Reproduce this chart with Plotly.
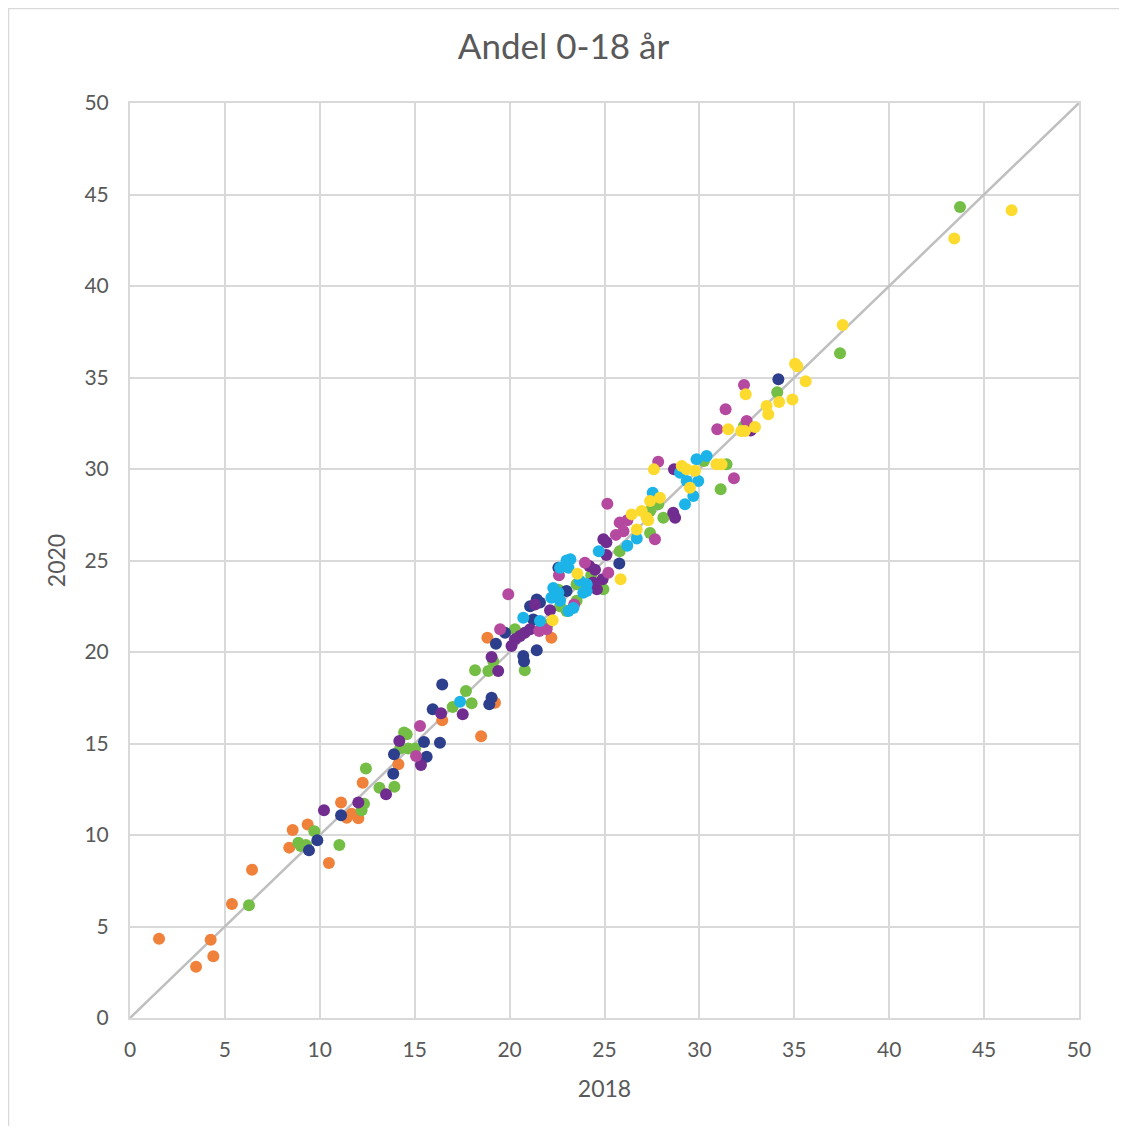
import plotly.graph_objects as go

# ── Dados ────────────────────────────────────────────────────────────────────

TITULO = "Andel 0-18 år"
EIXO_X = "2018"
EIXO_Y = "2020"
TICKS = [0, 5, 10, 15, 20, 25, 30, 35, 40, 45, 50]
DIAG = [0, 50]

LARANJA_X = [1.53, 3.48, 4.25, 4.39, 5.37, 6.43, 8.39, 8.57, 9.36, 10.48, 11.12, 11.68, 11.42, 12.03,
             12.26, 14.14, 16.45, 18.5, 18.83, 22.2, 19.23]
LARANJA_Y = [4.33, 2.8, 4.28, 3.37, 6.23, 8.1, 9.31, 10.27, 10.58, 8.47, 11.77, 11.16, 10.94, 10.91,
             12.86, 13.86, 16.27, 15.4, 20.78, 20.78, 17.23]

VERDE_X = [6.27, 8.87, 9.0, 9.27, 9.71, 11.03, 12.2, 12.33, 12.43, 13.14, 13.93, 14.23, 14.66, 15.02,
           14.44, 14.58, 18.0, 17.7, 18.18, 18.88, 19.14, 20.8, 20.28, 22.0, 22.57, 23.53, 23.53,
           23.0, 22.66, 24.3, 24.94, 25.8, 27.4, 27.4, 27.83, 28.1, 30.24, 31.43, 31.12, 32.35,
           34.1, 37.41, 43.73, 17.0]
VERDE_Y = [6.16, 9.58, 9.4, 9.45, 10.2, 9.45, 11.35, 11.71, 13.64, 12.58, 12.64, 14.72, 14.72, 14.72,
           15.6, 15.5, 17.2, 17.87, 19.0, 18.96, 19.5, 19.0, 21.24, 21.48, 23.4, 23.7, 22.8,
           22.24, 22.5, 24.2, 23.43, 25.5, 26.5, 27.7, 28.07, 27.34, 30.44, 30.26, 28.89, 32.35,
           34.2, 36.32, 44.32, 17.0]

AZUL_X = [9.43, 9.87, 11.12, 13.87, 13.91, 15.49, 15.63, 16.33, 15.95, 16.45, 18.93, 19.05, 19.28,
          19.76, 20.72, 20.76, 21.43, 21.08, 21.43, 21.6, 21.25, 22.57, 23.0, 25.78, 34.16]
AZUL_Y = [9.16, 9.71, 11.08, 13.35, 14.41, 15.08, 14.28, 15.04, 16.87, 18.23, 17.14, 17.5, 20.45,
          21.05, 19.78, 19.5, 20.09, 22.5, 22.87, 22.7, 21.78, 24.6, 23.33, 24.83, 34.9]

ROXO_X = [10.22, 12.03, 13.49, 14.19, 15.33, 16.39, 17.53, 19.05, 19.4, 20.1, 20.28, 20.55, 20.8,
          21.08, 21.34, 22.13, 24.2, 24.5, 24.6, 24.9, 25.1, 24.94, 25.1, 28.66, 28.62, 28.72,
          32.7, 24.4]
ROXO_Y = [11.35, 11.77, 12.22, 15.14, 13.83, 16.65, 16.6, 19.73, 18.96, 20.33, 20.69, 20.87, 21.05,
          21.24, 22.6, 22.28, 24.7, 24.5, 23.43, 23.97, 25.3, 26.16, 26.0, 29.98, 27.61, 27.34,
          32.1, 23.8]

MAGENTA_X = [15.28, 15.07, 19.5, 19.93, 21.56, 21.95, 22.6, 23.97, 25.2, 25.15, 25.6, 25.8, 26.2,
             27.66, 27.83, 31.38, 31.82, 30.94, 32.49, 32.35, 23.4, 26.0]
MAGENTA_Y = [15.96, 14.32, 21.24, 23.15, 21.15, 21.24, 24.2, 24.88, 24.33, 28.1, 26.4, 27.07, 27.2,
             26.16, 30.4, 33.26, 29.49, 32.17, 32.62, 34.59, 22.6, 26.6]

CIANO_X = [17.39, 20.72, 21.6, 22.2, 22.3, 22.57, 22.66, 22.66, 23.1, 23.2, 23.1, 23.36, 23.7,
           24.06, 24.06, 23.88, 24.7, 26.2, 26.7, 27.54, 28.98, 29.24, 29.33, 29.68, 29.85,
           29.94, 30.38, 23.0]
CIANO_Y = [17.28, 21.87, 21.7, 22.97, 23.5, 23.24, 22.8, 24.6, 24.6, 25.07, 22.24, 22.4, 23.9,
           23.7, 23.33, 23.24, 25.5, 25.8, 26.2, 28.7, 29.8, 28.07, 29.34, 28.52, 30.53,
           29.34, 30.71, 25.0]

AMARELO_X = [22.27, 23.57, 25.85, 26.7, 27.3, 26.43, 26.96, 27.22, 27.4, 27.92, 27.6, 29.07, 29.33,
             29.77, 29.5, 30.9, 31.17, 31.52, 32.2, 32.4, 32.93, 32.44, 33.54, 33.63, 34.2, 34.9,
             35.04, 35.16, 35.6, 37.55, 43.43, 46.45]
AMARELO_Y = [21.73, 24.28, 23.97, 26.7, 27.2, 27.52, 27.7, 27.34, 28.25, 28.43, 29.98, 30.16, 29.98,
             29.9, 28.98, 30.26, 30.26, 32.17, 32.07, 32.07, 32.3, 34.08, 33.44, 32.99, 33.66, 33.8,
             35.75, 35.61, 34.8, 37.87, 42.6, 44.14]

SERIES = [
    (LARANJA_X, LARANJA_Y, "#F0813A"),
    (VERDE_X, VERDE_Y, "#74BE45"),
    (AZUL_X, AZUL_Y, "#2C3E8C"),
    (ROXO_X, ROXO_Y, "#702C8E"),
    (MAGENTA_X, MAGENTA_Y, "#B5499F"),
    (CIANO_X, CIANO_Y, "#1CB4E8"),
    (AMARELO_X, AMARELO_Y, "#FDDB2E"),
]

# ── Gráfico ──────────────────────────────────────────────────────────────────

FONTE = "Lato, 'Open Sans', sans-serif"
CINZA = "#595959"
GRADE = "#D9D9D9"

fig = go.Figure()

fig.add_trace(go.Scatter(
    x=DIAG, y=DIAG, mode="lines",
    line=dict(color="#BFBFBF", width=2.5),
    showlegend=False, hoverinfo="skip",
))

for xs, ys, cor in SERIES:
    fig.add_trace(go.Scatter(
        x=xs, y=ys, mode="markers",
        marker=dict(color=cor, size=12, line=dict(width=0)),
        showlegend=False,
    ))

eixo = dict(
    range=[0, 50],
    tickvals=TICKS,
    showgrid=True, gridcolor=GRADE, gridwidth=2,
    zeroline=False,
    showline=True, linecolor=GRADE, linewidth=2, mirror=True,
    ticks="outside", tickcolor="rgba(0,0,0,0)",
    tickfont=dict(size=21, color=CINZA, family=FONTE),
)

# a página tem 8px de margem no body: figura um pouco menor que a janela
fig.update_layout(
    width=1111, height=1118,
    title=dict(text=TITULO, x=0.5, xanchor="center", y=1 - 39 / 1118, yanchor="middle",
               font=dict(size=35, color=CINZA, family=FONTE)),
    xaxis=dict(eixo, ticklen=12,
               title=dict(text=EIXO_X, standoff=21, font=dict(size=23, color=CINZA, family=FONTE))),
    yaxis=dict(eixo, ticklen=15,
               title=dict(text=EIXO_Y, standoff=12, font=dict(size=23, color=CINZA, family=FONTE))),
    plot_bgcolor="white",
    paper_bgcolor="white",
    margin=dict(l=122, r=40, t=95, b=108),
    shapes=[dict(type="rect", xref="paper", yref="paper",
                 x0=-0.128, x1=1.0437, y0=-0.1257, y1=1.1033,
                 line=dict(color="#D9D9D9", width=1.5), layer="below")],
)

fig.write_html("out.html")
